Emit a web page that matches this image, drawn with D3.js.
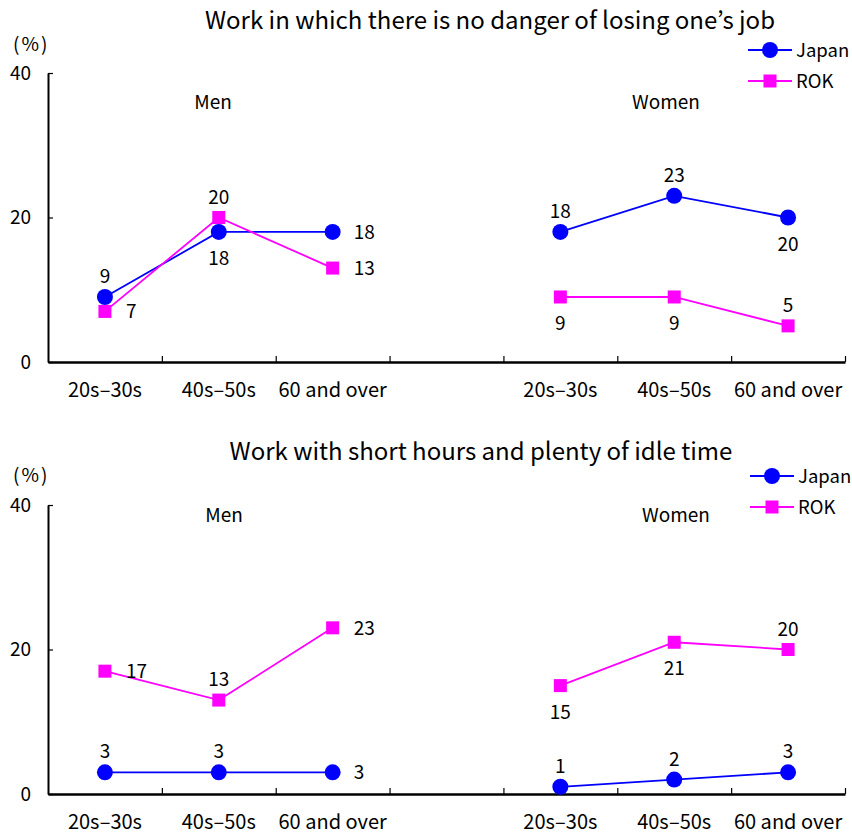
<!DOCTYPE html>
<html><head><meta charset="utf-8">
<script src="https://cdn.jsdelivr.net/npm/d3@7"></script>
<style>
body{margin:0;background:#fff;}
text{font-family:"Noto Sans CJK JP","Noto Sans",sans-serif;fill:#000;}
</style></head>
<body><svg id="c" width="852" height="836"></svg>
<script>
// ---- data ----
const ageGroups = ["20s–30s","40s–50s","60 and over"];
const sexes = ["Men","Women"];
const seriesNames = ["Japan","ROK"];
const yTicks = [0,20,40];

const title1 = "Work in which there is no danger of losing one’s job";
const japan1 = [9,18,18, 18,23,20];
const rok1   = [7,20,13, 9,9,5];
const japan1Pos = ["t","b","r","t","t","b"];
const rok1Pos   = ["r","t","r","b","b","t"];

const title2 = "Work with short hours and plenty of idle time";
const japan2 = [3,3,3, 1,2,3];
const rok2   = [17,13,23, 15,21,20];
const japan2Pos = ["t","t","r","t","t","t"];
const rok2Pos   = ["r","t","r","b","b","t"];

// ---- layout ----
const svg = d3.select("#c");
const colors = {Japan:"#0000ff", ROK:"#ff00ff"};
const slots = ["M0","M1","M2","gap","W0","W1","W2"];
const x = d3.scaleBand().domain(slots).range([48,845]).padding(0);
const slotOf = i => i < 3 ? "M"+i : "W"+(i-3);
const cx = i => x(slotOf(i)) + x.bandwidth()/2;

const panels = [
  {title:title1, japan:japan1, rok:rok1, jp:japan1Pos, rp:rok1Pos, top:73, bottom:362,
   titleX:490, titleY:29, pctY:51, legY:50, sexY:109, sexX:[213,666], legX:748},
  {title:title2, japan:japan2, rok:rok2, jp:japan2Pos, rp:rok2Pos, top:505, bottom:794,
   titleX:481, titleY:460, pctY:482, legY:476, sexY:522, sexX:[224,676], legX:750}
];

panels.forEach(p => {
  const g = svg.append("g");
  const y = d3.scaleLinear().domain([0,40]).range([p.bottom,p.top]);

  g.append("text").attr("x",p.titleX).attr("y",p.titleY).attr("text-anchor","middle")
    .style("font-size","24px").text(p.title);
  g.append("text").attr("x",13).attr("y",p.pctY)
    .style("font-size","19px").style("letter-spacing","2px").text("(%)");

  // y axis
  const ya = d3.axisLeft(y).tickValues(yTicks).tickSizeInner(-5).tickSizeOuter(0).tickPadding(17);
  const yg = g.append("g").attr("transform","translate(48,0)").call(ya);
  yg.select(".domain").attr("stroke","#000").attr("stroke-width",2);
  yg.selectAll(".tick line").attr("stroke","#000").attr("stroke-width",1.2);
  yg.selectAll(".tick text").style("font-size","19px").style("font-family",'"Noto Sans CJK JP",sans-serif');

  // x axis with boundary ticks
  const xb = d3.scaleLinear().domain([0,7]).range([48,845]);
  const xa = d3.axisBottom(xb).tickValues([1,2,3,4,5,6,7]).tickSizeInner(-6).tickSizeOuter(0).tickFormat("");
  const xg = g.append("g").attr("transform",`translate(0,${p.bottom})`).call(xa);
  xg.select(".domain").attr("stroke","#000").attr("stroke-width",2.5);
  xg.selectAll(".tick line").attr("stroke","#000").attr("stroke-width",1.2);

  // category labels
  for (let i=0;i<6;i++){
    g.append("text").attr("x",cx(i)).attr("y",p.bottom+35).attr("text-anchor","middle")
      .style("font-size","20px").text(ageGroups[i%3]);
  }
  sexes.forEach((s,k)=>{
    g.append("text").attr("x",p.sexX[k]).attr("y",p.sexY).attr("text-anchor","middle")
      .style("font-size","19px").text(s);
  });

  const line = d3.line().x(d=>cx(d.i)).y(d=>y(d.v));
  [["Japan",p.japan,p.jp],["ROK",p.rok,p.rp]].forEach(([name,vals,pos])=>{
    const col = colors[name];
    [0,1].forEach(k=>{
      const pts = vals.slice(k*3,k*3+3).map((v,j)=>({i:k*3+j,v}));
      g.append("path").attr("d",line(pts)).attr("fill","none").attr("stroke",col).attr("stroke-width",1.8);
    });
    vals.forEach((v,i)=>{
      if(name==="Japan") g.append("circle").attr("cx",cx(i)).attr("cy",y(v)).attr("r",8).attr("fill",col);
      else g.append("rect").attr("x",cx(i)-6.5).attr("y",y(v)-6.5).attr("width",13).attr("height",13).attr("fill",col);
      const ps = pos[i];
      let tx=cx(i), ty=y(v), anchor="middle";
      if(ps==="t"){ty-=14;}
      else if(ps==="b"){ty+=33;}
      else {tx+=21; ty+=7; anchor="start";}
      g.append("text").attr("x",tx).attr("y",ty).attr("text-anchor",anchor)
        .style("font-size","19px").text(v);
    });
  });

  // legend
  seriesNames.forEach((name,k)=>{
    const ly = p.legY + k*31;
    const col = colors[name];
    g.append("line").attr("x1",p.legX).attr("x2",p.legX+44).attr("y1",ly).attr("y2",ly)
      .attr("stroke",col).attr("stroke-width",1.8);
    if(name==="Japan") g.append("circle").attr("cx",p.legX+22).attr("cy",ly).attr("r",8).attr("fill",col);
    else g.append("rect").attr("x",p.legX+15.5).attr("y",ly-6.5).attr("width",13).attr("height",13).attr("fill",col);
    g.append("text").attr("x",p.legX+48).attr("y",ly+7).style("font-size","18.5px").text(name);
  });
});
</script></body></html>
